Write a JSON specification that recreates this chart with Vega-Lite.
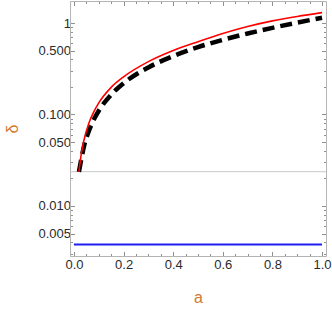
{
  "$schema": "https://vega.github.io/schema/vega-lite/v6.json",
  "width": 256,
  "height": 255,
  "autosize": "none",
  "padding": {"left": 70, "top": 1, "right": 6, "bottom": 53},
  "background": "white",
  "config": {
    "view": {"stroke": null},
    "axis": {
      "domainColor": "#b4b4b4",
      "domainWidth": 1,
      "tickColor": "#909090",
      "tickWidth": 1,
      "grid": false,
      "labelFont": "Liberation Sans",
      "labelFontSize": 13,
      "labelColor": "#2a2a2a",
      "titleFont": "Liberation Sans",
      "titleFontSize": 16,
      "titleFontWeight": "normal",
      "titleColor": "#cf7a30"
    }
  },
  "datasets": {
    "gray": [{"d": 0.0237}],
    "blue": [{"a": 0, "d": 0.0038}, {"a": 1, "d": 0.0038}],
    "black": [
      {"a": 0.02, "d": 0.0236},
      {"a": 0.03, "d": 0.033},
      {"a": 0.04, "d": 0.0445},
      {"a": 0.06, "d": 0.066},
      {"a": 0.08, "d": 0.088},
      {"a": 0.1, "d": 0.11},
      {"a": 0.15, "d": 0.165},
      {"a": 0.2, "d": 0.22},
      {"a": 0.3, "d": 0.327},
      {"a": 0.4, "d": 0.435},
      {"a": 0.5, "d": 0.545},
      {"a": 0.6, "d": 0.655},
      {"a": 0.7, "d": 0.767},
      {"a": 0.8, "d": 0.885},
      {"a": 0.9, "d": 1.01},
      {"a": 1.0, "d": 1.14}
    ],
    "red": [
      {"a": 0.02, "d": 0.0236},
      {"a": 0.03, "d": 0.0378},
      {"a": 0.04, "d": 0.052},
      {"a": 0.06, "d": 0.08},
      {"a": 0.08, "d": 0.107},
      {"a": 0.1, "d": 0.134},
      {"a": 0.15, "d": 0.198},
      {"a": 0.2, "d": 0.258},
      {"a": 0.3, "d": 0.378},
      {"a": 0.4, "d": 0.5},
      {"a": 0.5, "d": 0.625},
      {"a": 0.6, "d": 0.768},
      {"a": 0.7, "d": 0.915},
      {"a": 0.8, "d": 1.055},
      {"a": 0.9, "d": 1.18},
      {"a": 1.0, "d": 1.3}
    ]
  },
  "layer": [
    {
      "data": {"name": "gray"},
      "mark": {"type": "rule", "color": "#c8c8c8", "strokeWidth": 1},
      "encoding": {
        "y": {"field": "d", "type": "quantitative", "scale": {"type": "log", "domain": [0.00284, 1.74], "nice": false}, "axis": null}
      }
    },
    {
      "data": {"name": "blue"},
      "mark": {"type": "line", "color": "#1f1fef", "strokeWidth": 2},
      "encoding": {
        "x": {
          "field": "a", "type": "quantitative",
          "scale": {"domain": [-0.016, 1.016], "nice": false, "zero": false},
          "axis": {
            "orient": "top", "title": null, "labels": false,
            "values": [0,0.05,0.1,0.15,0.2,0.25,0.3,0.35,0.4,0.45,0.5,0.55,0.6,0.65,0.7,0.75,0.8,0.85,0.9,0.95,1],
            "tickSize": {"condition": {"test": "round(datum.value*20) % 4 == 0", "value": -4.5}, "value": -2.5}
          }
        },
        "y": {
          "field": "d", "type": "quantitative",
          "scale": {"type": "log", "domain": [0.00284, 1.74], "nice": false},
          "axis": {
            "orient": "right", "title": null, "labels": false,
            "values": [0.003,0.004,0.005,0.006,0.007,0.008,0.009,0.01,0.02,0.03,0.04,0.05,0.06,0.07,0.08,0.09,0.1,0.2,0.3,0.4,0.5,0.6,0.7,0.8,0.9,1],
            "tickSize": {"condition": {"test": "datum.value == 1 || datum.value == 0.5 || datum.value == 0.1 || datum.value == 0.05 || datum.value == 0.01 || datum.value == 0.005", "value": -4.5}, "value": -2.5}
          }
        }
      }
    },
    {
      "data": {"name": "black"},
      "mark": {"type": "line", "color": "#000000", "strokeWidth": 4.5, "strokeDash": [12, 6], "interpolate": "monotone"},
      "encoding": {
        "x": {"field": "a", "type": "quantitative", "axis": null},
        "y": {"field": "d", "type": "quantitative", "axis": null}
      }
    },
    {
      "data": {"name": "red"},
      "mark": {"type": "line", "color": "#ff0000", "strokeWidth": 1.6, "interpolate": "monotone"},
      "encoding": {
        "x": {
          "field": "a", "type": "quantitative",
          "axis": {
            "orient": "bottom", "title": "a", "titlePadding": 18,
            "values": [0,0.05,0.1,0.15,0.2,0.25,0.3,0.35,0.4,0.45,0.5,0.55,0.6,0.65,0.7,0.75,0.8,0.85,0.9,0.95,1],
            "labelExpr": "round(datum.value*20) % 4 == 0 ? format(datum.value, '.1f') : ''",
            "labelPadding": 7,
            "tickSize": {"condition": {"test": "round(datum.value*20) % 4 == 0", "value": -4.5}, "value": -2.5}
          }
        },
        "y": {
          "field": "d", "type": "quantitative",
          "axis": {
            "orient": "left", "title": "δ", "titlePadding": 17, "titleAngle": -90,
            "values": [0.003,0.004,0.005,0.006,0.007,0.008,0.009,0.01,0.02,0.03,0.04,0.05,0.06,0.07,0.08,0.09,0.1,0.2,0.3,0.4,0.5,0.6,0.7,0.8,0.9,1],
            "labelExpr": "datum.value == 1 ? '1' : (datum.value == 0.5 || datum.value == 0.1 || datum.value == 0.05 || datum.value == 0.01 || datum.value == 0.005) ? format(datum.value, '.3f') : ''",
            "labelPadding": 4,
            "tickSize": {"condition": {"test": "datum.value == 1 || datum.value == 0.5 || datum.value == 0.1 || datum.value == 0.05 || datum.value == 0.01 || datum.value == 0.005", "value": -4.5}, "value": -2.5}
          }
        }
      }
    }
  ],
  "resolve": {"axis": {"x": "independent", "y": "independent"}}
}
